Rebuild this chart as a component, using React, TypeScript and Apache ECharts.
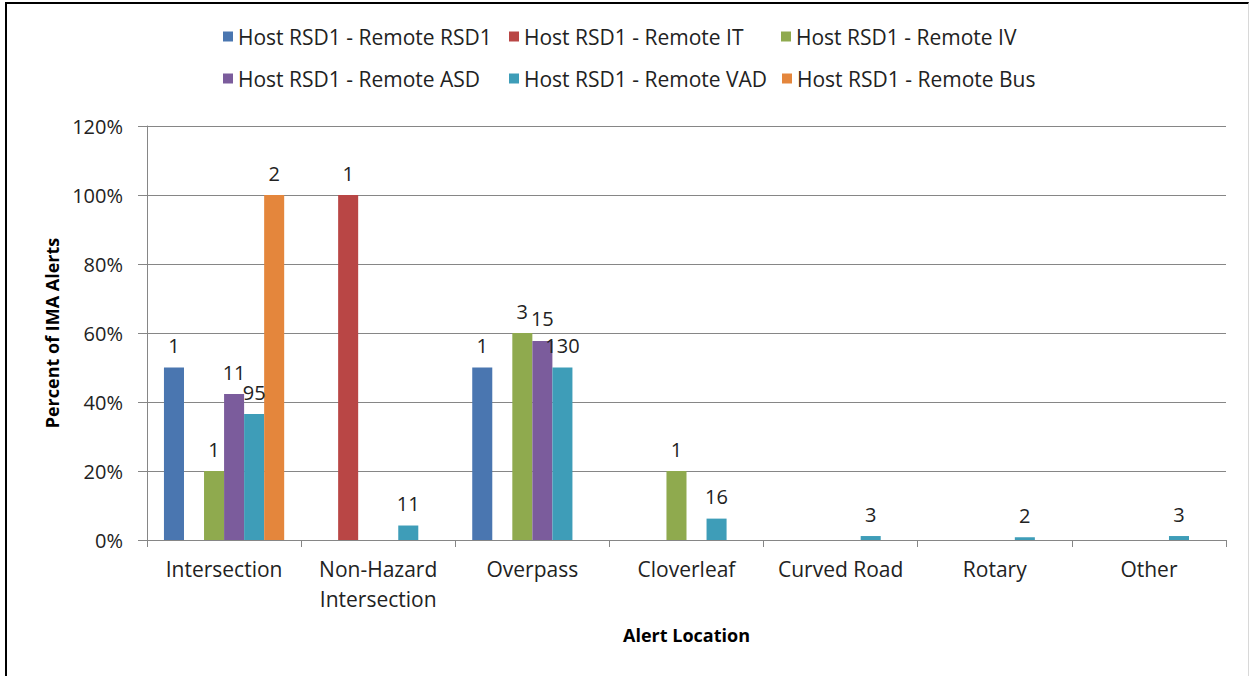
import React, { useEffect, useRef } from "react";
import * as echarts from "echarts";

const categories = ["Intersection", "Non-Hazard\nIntersection", "Overpass", "Cloverleaf", "Curved Road", "Rotary", "Other"];
const seriesNames = [
  "Host RSD1 - Remote RSD1",
  "Host RSD1 - Remote IT",
  "Host RSD1 - Remote IV",
  "Host RSD1 - Remote ASD",
  "Host RSD1 - Remote VAD",
  "Host RSD1 - Remote Bus",
];
const colors = ["#4A76B0", "#B94645", "#8FAA4E", "#7B5C9C", "#3E9DB8", "#E4863C"];

// percent of alerts per location
const rsd1Pct = [50, null, 50, null, null, null, null];
const itPct = [null, 100, null, null, null, null, null];
const ivPct = [20, null, 60, 20, null, null, null];
const asdPct = [42.3, null, 57.7, null, null, null, null];
const vadPct = [36.5, 4.2, 50, 6.2, 1.15, 0.77, 1.15];
const busPct = [100, null, null, null, null, null, null];

// alert counts shown as labels
const rsd1Count = [1, null, 1, null, null, null, null];
const itCount = [null, 1, null, null, null, null, null];
const ivCount = [1, null, 3, 1, null, null, null];
const asdCount = [11, null, 15, null, null, null, null];
const vadCount = [95, 11, 130, 16, 3, 2, 3];
const busCount = [2, null, null, null, null, null, null];

const yTicks = [0, 20, 40, 60, 80, 100, 120];

const pctSeries = [rsd1Pct, itPct, ivPct, asdPct, vadPct, busPct];
const countSeries = [rsd1Count, itCount, ivCount, asdCount, vadCount, busCount];

const FONT = '"Open Sans", "Noto Sans", sans-serif';

export default function App() {
  const ref = useRef<HTMLDivElement>(null);
  useEffect(() => {
    document.body.style.margin = "0";
    const chart = echarts.init(ref.current!, null, { renderer: "svg" });
    const legendPos = [
      [223, 26], [509, 26], [781, 26],
      [223, 68], [509, 68], [782, 68],
    ];
    chart.setOption({
      animation: false,
      color: colors,
      textStyle: { fontFamily: FONT },
      legend: seriesNames.map((n, i) => ({
        data: [n],
        left: legendPos[i][0],
        top: legendPos[i][1],
        icon: "rect",
        itemWidth: 10,
        itemHeight: 10,
        padding: 0,
        selectedMode: false,
        textStyle: { fontSize: 21, color: "#222", fontFamily: FONT },
      })),
      grid: { left: 147, right: 26, top: 126, bottom: 136, containLabel: false },
      xAxis: {
        type: "category",
        data: categories,
        name: "Alert Location",
        nameLocation: "middle",
        nameGap: 86,
        nameTextStyle: { fontSize: 18, fontWeight: "bold", color: "#000", fontFamily: FONT },
        axisLine: { lineStyle: { color: "#868686", width: 1 } },
        axisTick: { show: true, length: 7, lineStyle: { color: "#868686" }, alignWithLabel: false },
        axisLabel: { fontSize: 21, color: "#222", lineHeight: 30, margin: 14, interval: 0, fontFamily: FONT },
        splitLine: { show: false },
      },
      yAxis: {
        type: "value",
        min: yTicks[0],
        max: yTicks[yTicks.length - 1],
        interval: 20,
        name: "Percent of IMA Alerts",
        nameLocation: "middle",
        nameRotate: 90,
        nameGap: 86,
        nameTextStyle: { fontSize: 18, fontWeight: "bold", color: "#000", fontFamily: FONT },
        axisLine: { show: true, lineStyle: { color: "#868686", width: 1 } },
        axisTick: { show: true, length: 9, lineStyle: { color: "#868686" } },
        axisLabel: { fontSize: 20, color: "#222", margin: 24, formatter: "{value}%", fontFamily: FONT },
        splitLine: { show: true, lineStyle: { color: "#868686", width: 1 } },
      },
      series: seriesNames.map((n, si) => ({
        name: n,
        type: "bar",
        barGap: "0%",
        barCategoryGap: "22%",
        data: pctSeries[si],
        label: {
          show: true,
          position: "top",
          distance: 12,
          fontSize: 20,
          color: "#222",
          fontFamily: FONT,
          formatter: (p: any) => {
            const c = countSeries[si][p.dataIndex];
            return c == null ? "" : String(c);
          },
        },
      })),
    });
    return () => chart.dispose();
  }, []);
  return (
    <div style={{ position: "relative", width: 1252, height: 676, background: "#fff" }}>
      <div ref={ref} style={{ position: "absolute", left: 0, top: 0, width: 1252, height: 676 }} />
      <div
        style={{
          position: "absolute",
          left: 5,
          top: 2,
          width: 1244,
          height: 674,
          borderLeft: "2px solid #000",
          borderTop: "2px solid #000",
          borderRight: "1px solid #d8d8d8",
          boxSizing: "border-box",
          pointerEvents: "none",
        }}
      />
    </div>
  );
}
